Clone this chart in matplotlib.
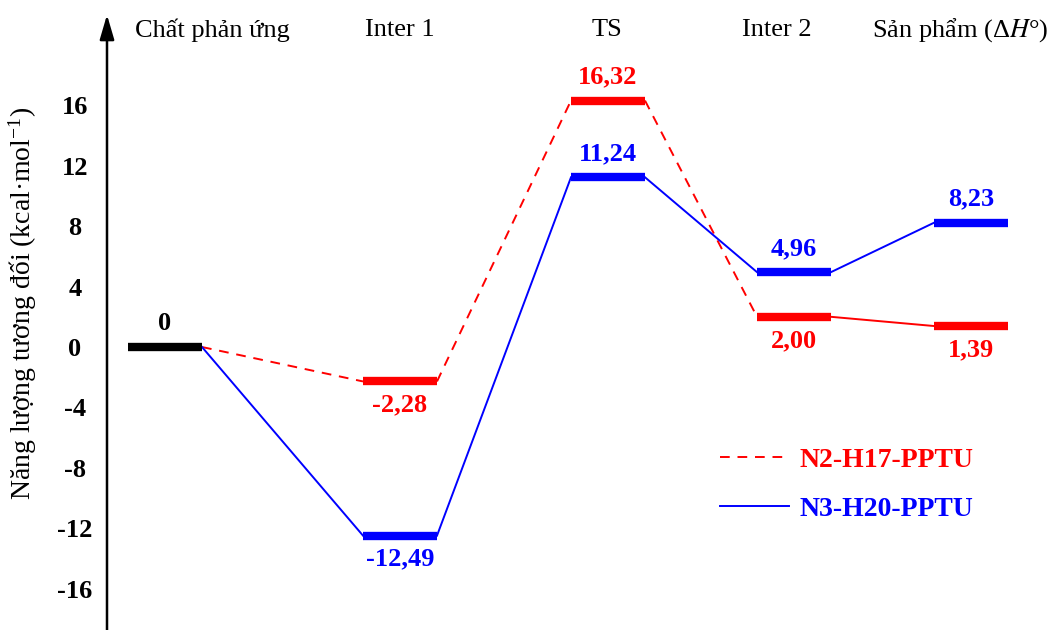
import matplotlib
matplotlib.use("Agg")
import matplotlib.pyplot as plt
from matplotlib.lines import Line2D

plt.rcParams['font.family'] = ['Liberation Serif', 'DejaVu Serif']
plt.rcParams['mathtext.fontset'] = 'stix'

# Reaction stages and relative energies (kcal/mol)
stages = ["Chất phản ứng", "Inter 1", "TS", "Inter 2", "Sản phẩm (Δ$H$°)"]
n2_energy = [0, -2.28, 16.32, 2.00, 1.39]
n3_energy = [0, -12.49, 11.24, 4.96, 8.23]
series_names = ["N2-H17-PPTU", "N3-H20-PPTU"]
series_colors = ["#ff0000", "#0000ff"]
yticks = [-16, -12, -8, -4, 0, 4, 8, 12, 16]

# horizontal layout of the energy levels (x in figure pixels)
level_x = [165, 400, 608, 794, 971]
half_w = 37
header_x = [212, 400, 607, 777, 960]
axis_x = 107

fig = plt.figure(figsize=(10.58, 6.30), dpi=100)
ax = fig.add_axes([0, 0, 1, 1])
ymin, ymax = -18.74, 22.98
ax.set_xlim(0, 1058)
ax.set_ylim(ymin, ymax)

for s in ax.spines.values():
    s.set_visible(False)
ax.spines['left'].set_position(('data', axis_x))
ax.set_xticks([])
ax.set_yticks(yticks)
ax.set_yticklabels([str(t) for t in yticks], fontweight='bold', ha='center')
ax.tick_params(axis='y', length=0, pad=23, labelsize=19)

# energy axis with arrow head
ax.annotate('', xy=(axis_x, 22.0), xytext=(axis_x, ymin),
            arrowprops=dict(arrowstyle='-|>,head_length=0.75,head_width=0.22',
                            mutation_scale=20, lw=1.8, color='black',
                            shrinkA=0, shrinkB=0))

ax.set_ylabel("Năng lượng tương đối (kcal·mol$^{\\mathregular{-1}}$)", fontsize=20)
ax.yaxis.set_label_coords(0.037, 0.519)

# stage names along the top
for name, hx in zip(stages, header_x):
    ax.text(hx, 21.0, name, ha='center', va='center', fontsize=19)


def fmt(v):
    return "0" if v == 0 else f"{v:.2f}".replace('.', ',')


bar_lw = 6
# common reactant level
ax.plot([level_x[0] - half_w, level_x[0] + half_w], [n2_energy[0]] * 2,
        color='black', lw=bar_lw, solid_capstyle='butt', zorder=3)
ax.annotate(fmt(n2_energy[0]), (level_x[0], n2_energy[0]), xytext=(0, 17),
            textcoords='offset points', ha='center', va='center',
            fontsize=19, fontweight='bold', color='black')

# label placement: +1 above the level, -1 below
n2_side = [1, -1, 1, -1, -1]
n3_side = [1, -1, 1, 1, 1]

for energy, color, side in [(n2_energy, series_colors[0], n2_side),
                            (n3_energy, series_colors[1], n3_side)]:
    for i in range(1, len(energy)):
        x0 = level_x[i - 1] + half_w
        x1 = level_x[i] - half_w
        ls = (0, (5, 4)) if (color == series_colors[0] and i < len(energy) - 1) else '-'
        ax.plot([x0, x1], [energy[i - 1], energy[i]], color=color, lw=1.4,
                linestyle=ls, zorder=2)
        ax.plot([level_x[i] - half_w, level_x[i] + half_w], [energy[i]] * 2,
                color=color, lw=bar_lw, solid_capstyle='butt', zorder=3)
        ax.annotate(fmt(energy[i]), (level_x[i], energy[i]),
                    xytext=(0, 17 * side[i]), textcoords='offset points',
                    ha='center', va='center', fontsize=19,
                    fontweight='bold', color=color)

handles = [Line2D([], [], color=series_colors[0], lw=1.4, linestyle=(0, (5, 4))),
           Line2D([], [], color=series_colors[1], lw=1.4)]
ax.legend(handles, series_names, loc='upper left', bbox_to_anchor=(0.6805, 0.290),
          frameon=False, prop={'weight': 'bold', 'size': 20},
          labelcolor=series_colors, handlelength=2.5, handletextpad=0.38,
          labelspacing=0.85, borderpad=0, borderaxespad=0)

fig.savefig("out.png", dpi=100)
